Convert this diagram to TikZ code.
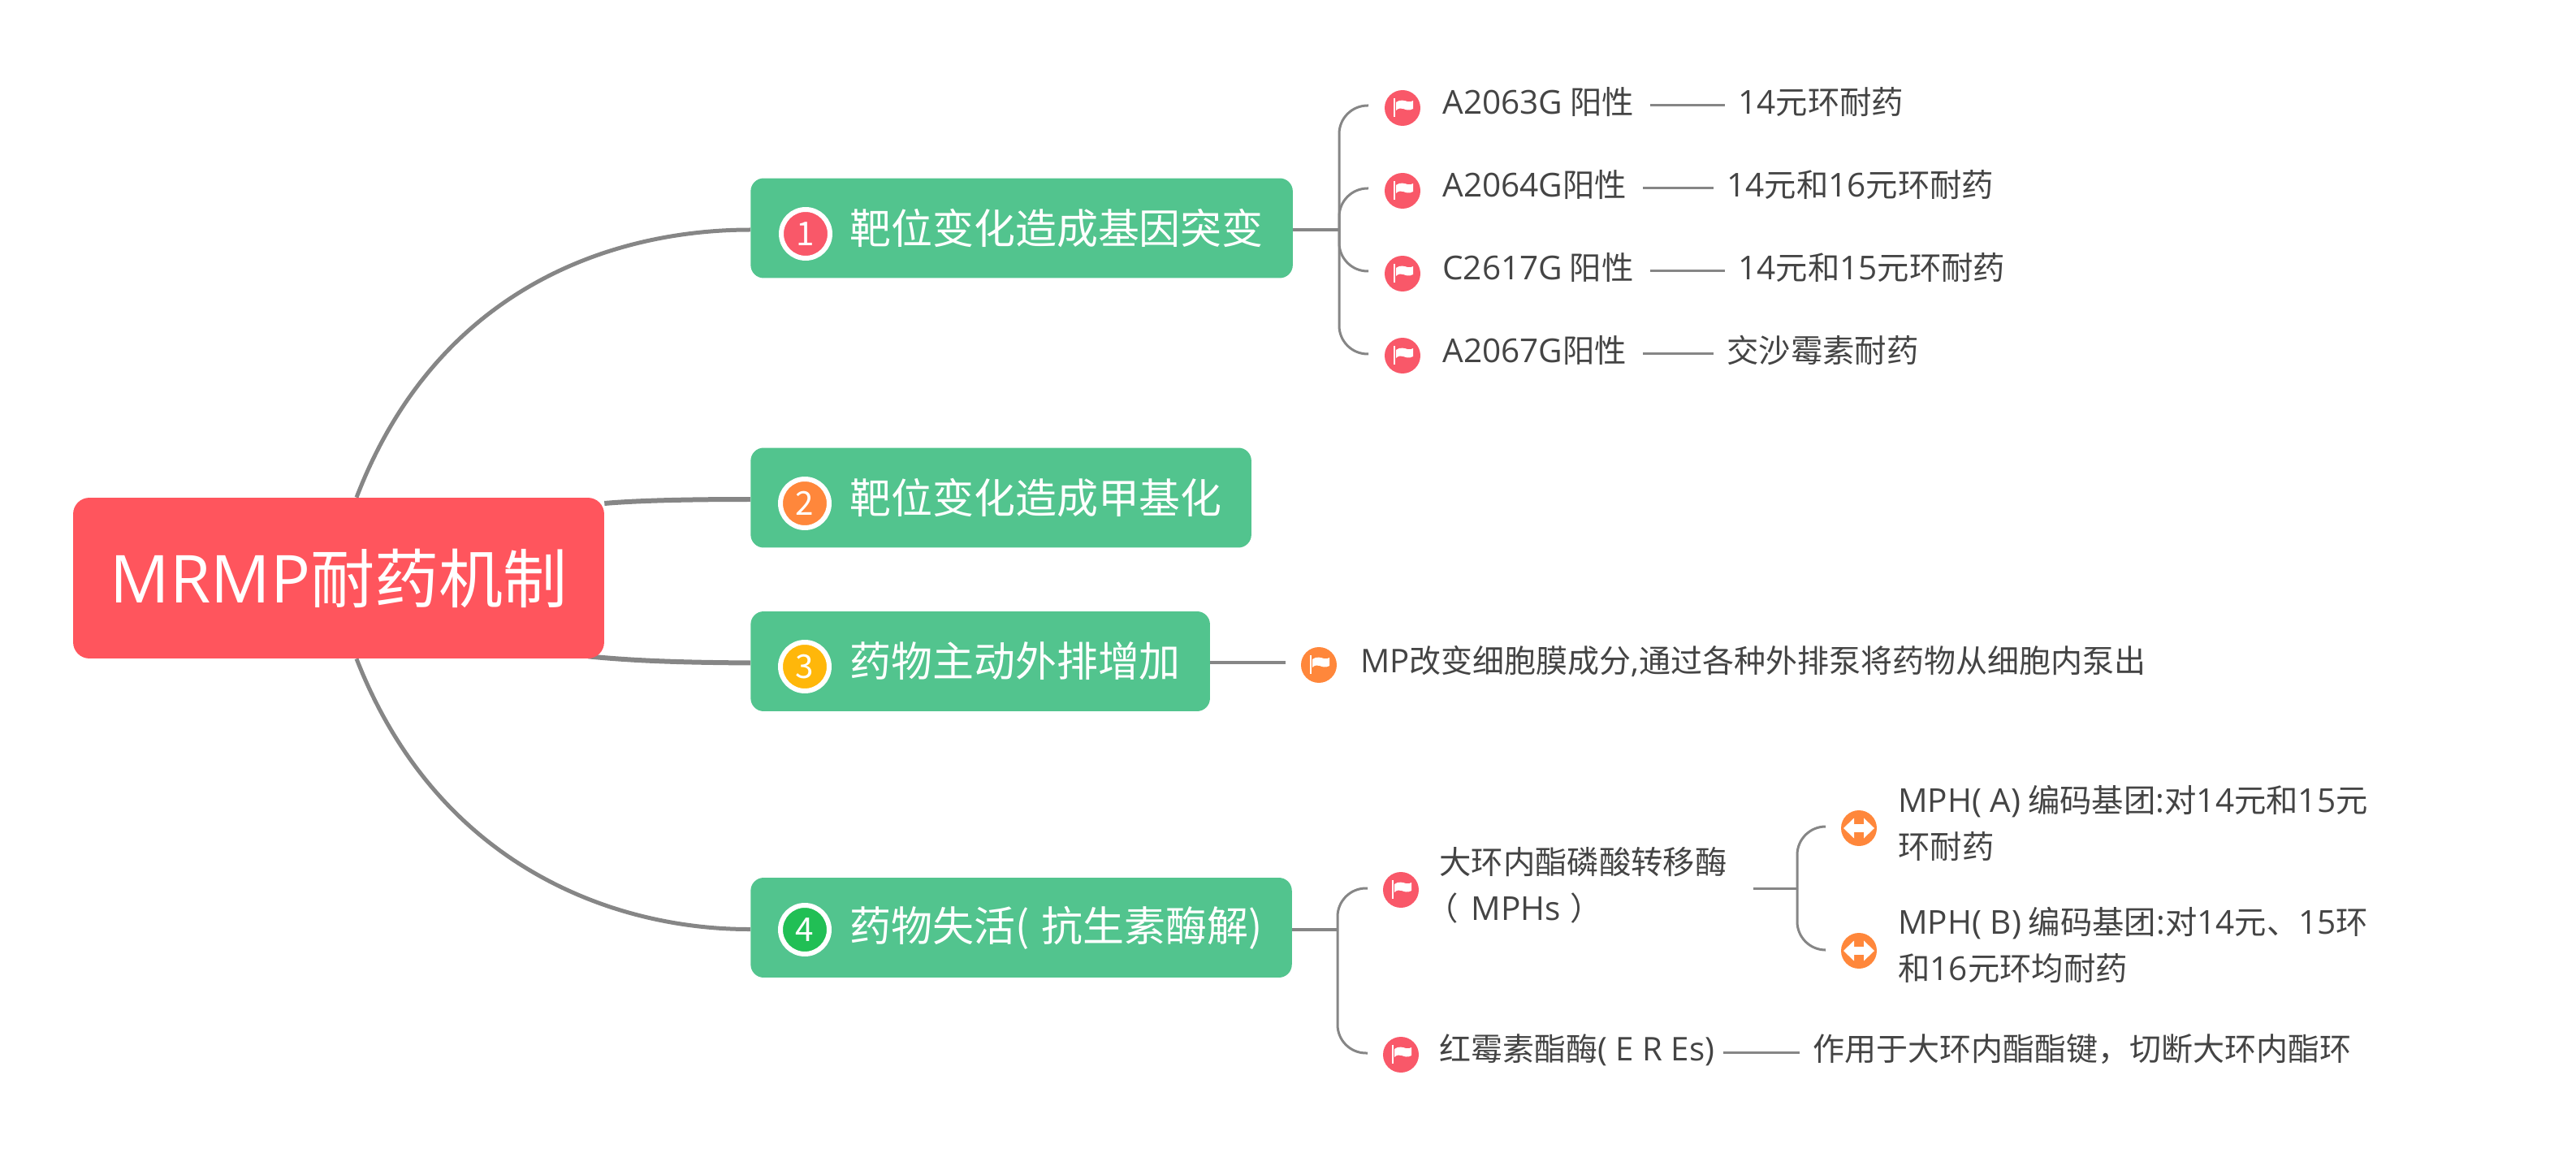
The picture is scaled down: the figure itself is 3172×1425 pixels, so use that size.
\documentclass[tikz,border=0pt]{standalone}
\usepackage{fontspec}
\setmainfont{Noto Sans CJK SC}
\newfontfamily\latn[Scale=1.03]{Open Sans}
\newcommand{\la}[1]{{\latn #1}}
\usetikzlibrary{positioning, calc, backgrounds}
\definecolor{rootred}{HTML}{FF555D}
\definecolor{boxgreen}{HTML}{52C48E}
\definecolor{flagpink}{HTML}{F95869}
\definecolor{markorange}{HTML}{FF873B}
\definecolor{markyellow}{HTML}{FFB70A}
\definecolor{markgreen}{HTML}{21BF55}
\definecolor{linegray}{HTML}{868686}
\definecolor{textgray}{HTML}{444444}
\tikzset{
  root/.style   = {rectangle, fill=rootred, rounded corners=0.4cm, minimum width=13.08cm,
                   minimum height=3.96cm, text=white, font=\fontsize{45}{50}\selectfont},
  topic/.style  = {rectangle, fill=boxgreen, rounded corners=0.32cm, anchor=west, minimum height=2.46cm,
                   inner xsep=0.72cm, inner ysep=0pt, text=white, font=\fontsize{29}{34}\selectfont},
  badge/.style  = {circle, draw=white, line width=0.12cm, minimum size=1.2cm, inner sep=0pt,
                   text=white, font=\fontsize{23}{26}\selectfont},
  flagp/.style  = {circle, fill=flagpink, minimum size=0.88cm, inner sep=0pt},
  flago/.style  = {circle, fill=markorange, minimum size=0.88cm, inner sep=0pt},
  leaf/.style   = {anchor=west, inner sep=0pt, text=textgray, text height=1.15em, text depth=0pt,
                   font=\fontsize{22.4}{32.3}\selectfont},
  leafm/.style  = {anchor=west, inner sep=0pt, text=textgray, align=left,
                   font=\fontsize{22.4}{32.3}\selectfont},
  stem/.style   = {line width=0.12cm, draw=linegray},
  main/.style   = {line width=0.1cm, draw=linegray},
  twig/.style   = {line width=0.06cm, draw=linegray, rounded corners=0.7cm},
  link/.style   = {line width=0.06cm, draw=linegray, shorten <=0.4cm, shorten >=0.32cm},
  flagmark/.pic = {
    \fill[white] (-11,-12) rectangle (-9,11);
    \fill[white] (-8,-7) .. controls (-3,-11) and (3,-9) .. (6,-8)
      .. controls (9,-7) and (11,-8) .. (13,-9) -- (13,1)
      .. controls (8,4) and (4,2) .. (1,1) .. controls (-2,0) and (-5,0) .. (-8,3) -- cycle;
  },
  swapmark/.pic = {
    \fill[white] (-19,0) -- (-6,-12.5) -- (-6,12.5) -- cycle;
    \fill[white] (19,0) -- (6,-12.5) -- (6,12.5) -- cycle;
    \fill[white] (-6,-5) rectangle (6,5);
  },
}
\begin{document}
\begin{tikzpicture}[x=0.02cm, y=-0.02cm]
    \useasboundingbox (0,0) rectangle (3172,1425);

    %% Centre topic and its four branches
    \node[root] (mrmp) at (417,712) {\la{MRMP}耐药机制};
    \node[topic] (t1) at (924,281)    {\hspace*{1.72cm}靶位变化造成基因突变};
    \node[topic] (t2) at (924,613)    {\hspace*{1.72cm}靶位变化造成甲基化};
    \node[topic] (t3) at (924,814.5)  {\hspace*{1.72cm}药物主动外排增加};
    \node[topic] (t4) at (924,1142.5) {\hspace*{1.72cm}药物失活(\hspace{0.08cm} 抗生素酶解)};

    %% Number badges
    \node[badge, fill=flagpink]   (n1) at (992,288)  {1};
    \node[badge, fill=markorange] (n2) at (991,620)  {2};
    \node[badge, fill=markyellow] (n3) at (991,821)  {3};
    \node[badge, fill=markgreen]  (n4) at (991,1145) {4};

    %% Flags of branch 1
    \node[flagp] (f1) at (1727,133) {};
    \node[flagp] (f2) at (1727,235) {};
    \node[flagp] (f3) at (1727,337) {};
    \node[flagp] (f4) at (1727,438) {};
    \pic at (f1) {flagmark};
    \pic at (f2) {flagmark};
    \pic at (f3) {flagmark};
    \pic at (f4) {flagmark};
    \coordinate (hub1) at (1649,283);
    \coordinate (e1) at (1685,130);
    \coordinate (e2) at (1685,232);
    \coordinate (e3) at (1685,334);
    \coordinate (e4) at (1685,436);

    \node[leaf] (a1) at (1776,130) {\la{A2063G} 阳性};
    \node[leaf] (a2) at (1776,232) {\la{A2064G}阳性};
    \node[leaf] (a3) at (1776,334) {\la{C2617G} 阳性};
    \node[leaf] (a4) at (1776,436) {\la{A2067G}阳性};
    \node[leaf] (b1) at (2140,130) {\la{14}元环耐药};
    \node[leaf] (b2) at (2126,232) {\la{14}元和\la{16}元环耐药};
    \node[leaf] (b3) at (2140,334) {\la{14}元和\la{15}元环耐药};
    \node[leaf] (b4) at (2126,436) {交沙霉素耐药};

    %% Branch 3
    \node[flago] (f5) at (1624,819) {};
    \pic at (f5) {flagmark};
    \coordinate (e5) at (1583,816);
    \node[leaf, font=\fontsize{22.2}{32.3}\selectfont] (c1) at (1675,818)
         {\la{MP}改变细胞膜成分\la{,}通过各种外排泵将药物从细胞内泵出};

    %% Branch 4
    \node[flagp] (f6) at (1725,1096) {};
    \node[flagp] (f7) at (1725,1299) {};
    \pic at (f6) {flagmark};
    \pic at (f7) {flagmark};
    \coordinate (hub4) at (1647,1145);
    \coordinate (e6) at (1684,1094);
    \coordinate (e7) at (1684,1297);
    \node[leafm] (d1) at (1772,1090)
         {大环内酯磷酸转移酶\\\hspace*{-0.32cm}（\hspace{0.32cm}\la{MPHs}\hspace{0.24cm}）};
    \node[leaf, font=\fontsize{22.2}{32.3}\selectfont] (d2) at (1772,1296)
         {红霉素酯酶\la{( E R Es)}};
    \node[leaf, font=\fontsize{22.2}{32.3}\selectfont] (d3) at (2232,1296)
         {作用于大环内酯酯键，切断大环内酯环};

    \coordinate (hub5) at (2213,1094);
    \coordinate (e8) at (2247,1018);
    \coordinate (e9) at (2247,1170);
    \node[flago] (s1) at (2289,1020) {};
    \node[flago] (s2) at (2289,1171) {};
    \pic at (s1) {swapmark};
    \pic at (s2) {swapmark};
    \node[leafm] (g1) at (2337,1014) {\la{MPH( A)} 编码基团\la{:}对\la{14}元和\la{15}元\\环耐药};
    \node[leafm] (g2) at (2337,1164) {\la{MPH( B)} 编码基团\la{:}对\la{14}元、\la{15}环\\和\la{16}元环均耐药};

    %% Connectors
    \begin{scope}[on background layer]
    \draw[main] ($(mrmp.north)+(22,0)$) .. controls (540,350) and (760,283) .. ($(t1.west)+(0,2)$);
    \draw[stem] ($(mrmp.east)+(0,-92)$) .. controls (790,616) and (860,615) .. ($(t2.west)+(0,2)$);
    \draw[stem] ($(mrmp.south east)+(-20,-3)$) .. controls (790,815) and (860,816) .. ($(t3.west)+(0,2)$);
    \draw[main] ($(mrmp.south)+(22,0)$) .. controls (540,1070) and (760,1145) .. ($(t4.west)+(0,2)$);
    \end{scope}

    \draw[stem, line width=0.08cm] (t1.east |- hub1) -- (hub1);
    \draw[twig] (hub1) |- (e1);
    \draw[twig] (hub1) |- (e2);
    \draw[twig] (hub1) |- (e3);
    \draw[twig] (hub1) |- (e4);
    \draw[link] (a1) -- (b1);
    \draw[link] (a2) -- (b2);
    \draw[link] (a3) -- (b3);
    \draw[link] (a4) -- (b4);
    \draw[stem, line width=0.08cm] (t3.east |- e5) -- (e5);
    \draw[stem, line width=0.08cm] (t4.east |- hub4) -- (hub4);
    \draw[twig] (hub4) |- (e6);
    \draw[twig] (hub4) |- (e7);
    \draw[link, shorten <=0.2cm] (d2) -- (d3);
    \draw[link, shorten <=0.64cm, shorten >=0pt] (d1.east |- hub5) -- (hub5);
    \draw[twig] (hub5) |- (e8);
    \draw[twig] (hub5) |- (e9);

  \end{tikzpicture}
\end{document}
